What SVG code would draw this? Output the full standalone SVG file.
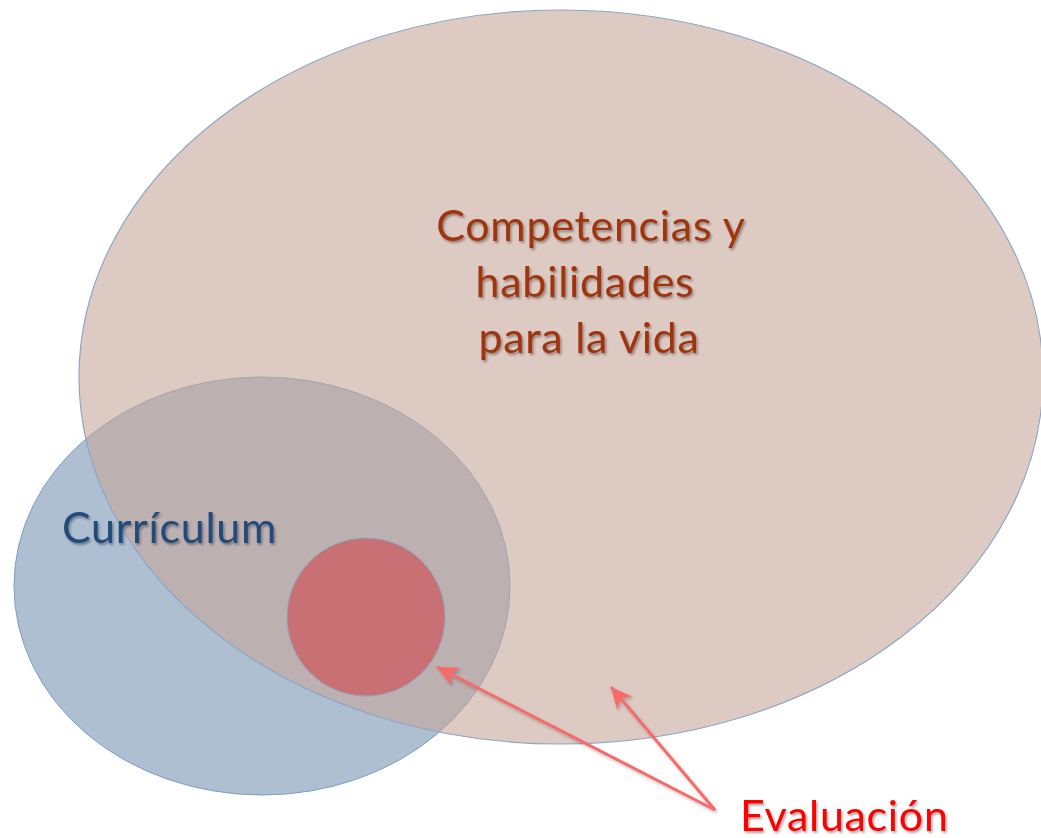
<svg xmlns="http://www.w3.org/2000/svg" width="1041" height="838" viewBox="0 0 1041 838">
<defs>
<style>
.lbl{font-family:Lato,"Open Sans","Liberation Sans",sans-serif;font-size:43px;letter-spacing:0.7px;filter:url(#ts)}
.conn{stroke:#f66a6a;stroke-width:3;fill:none;marker-end:url(#ah)}
</style>
<filter id="ts" x="-10%" y="-30%" width="130%" height="170%">
<feDropShadow dx="1.5" dy="2" stdDeviation="1.2" flood-color="#000" flood-opacity="0.35"/>
</filter>
<filter id="ls" x="-10%" y="-10%" width="130%" height="130%">
<feDropShadow dx="1.5" dy="2" stdDeviation="1.5" flood-color="#000" flood-opacity="0.25"/>
</filter>
<marker id="ah" viewBox="-22 -12 26 24" markerWidth="26" markerHeight="24" refX="0" refY="0" orient="auto" markerUnits="userSpaceOnUse">
<path d="M0,0 L-21,-10 L-15,0 L-21,10 Z" fill="#f66a6a"/>
</marker>
</defs>
<rect width="1041" height="838" fill="#ffffff"/>
<g id="curriculum">
<ellipse cx="262" cy="586" rx="248" ry="209" fill="#afbfd2" stroke="#7f9cc4" stroke-width="1"/>
</g>
<g id="competencias">
<ellipse cx="561" cy="377" rx="482" ry="367" fill="#c5a79b" fill-opacity="0.6" stroke="#8ea6c6" stroke-width="1.2"/>
<text class="lbl" fill="#a0340f" text-anchor="middle"><tspan x="591" y="241">Competencias y</tspan><tspan x="585" y="297">habilidades</tspan><tspan x="589" y="353">para la vida</tspan></text>
</g>
<g id="evaluacion-circle">
<circle cx="366" cy="617" r="79" fill="#c87073" stroke="#8ea6c6" stroke-width="1"/>
</g>
<g id="curriculum-label">
<text class="lbl" fill="#214b7b" x="62" y="543">Currículum</text>
</g>
<g id="connectors" filter="url(#ls)">
<line class="conn" x1="715" y1="810" x2="437" y2="667"/>
<line class="conn" x1="715" y1="810" x2="611" y2="687"/>
</g>
<g id="evaluacion">
<text class="lbl" fill="#ff0000" x="740" y="831">Evaluación</text>
</g>
</svg>
